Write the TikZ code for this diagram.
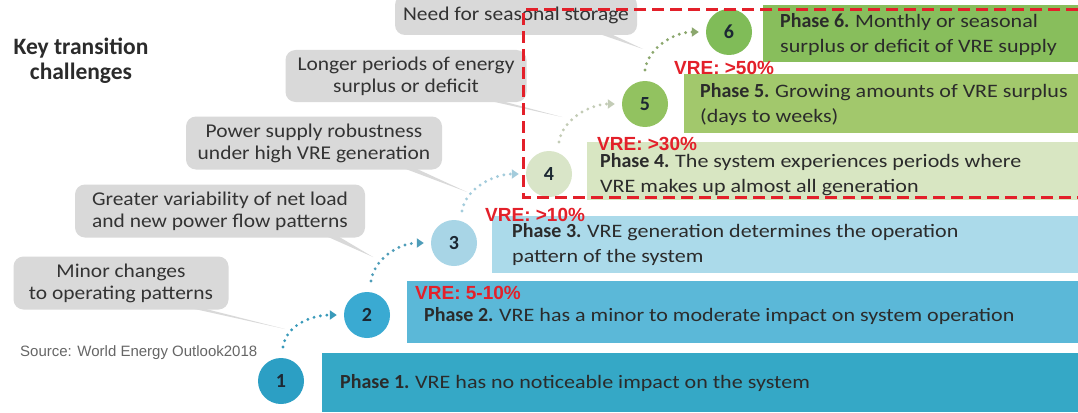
\documentclass[tikz,border=0pt]{standalone}
\usepackage{fontspec}
\setmainfont{Carlito}
\newfontfamily\arialf{Liberation Sans}
\usetikzlibrary{arrows.meta,calc}
\definecolor{pa}{HTML}{35A8C6}
\definecolor{pb}{HTML}{5BB8D8}
\definecolor{pc}{HTML}{ABDAEA}
\definecolor{pd}{HTML}{D8E6C2}
\definecolor{pe}{HTML}{A2C86C}
\definecolor{pf}{HTML}{88BE5C}
\definecolor{ca}{HTML}{2C9FC4}
\definecolor{cb}{HTML}{3AAAD2}
\definecolor{cc}{HTML}{A8D5E6}
\definecolor{cd}{HTML}{D9E5C8}
\definecolor{ce}{HTML}{92C260}
\definecolor{cf}{HTML}{80BC58}
\definecolor{callg}{HTML}{D9D9D9}
\definecolor{calltxt}{HTML}{333333}
\definecolor{txtc}{HTML}{2B2B2B}
\definecolor{numc}{HTML}{1C2833}
\definecolor{redc}{HTML}{E3202A}
\definecolor{srcg}{HTML}{666666}
\newcommand{\bw}[1]{\scalebox{1.16}[1]{#1}}
\newcommand{\cw}[1]{\scalebox{1.1}[1]{#1}}
\newcommand{\ph}[1]{{\bfseries\fontsize{20}{24}\selectfont #1}}
\begin{document}
\begin{tikzpicture}[x=1pt,y=-1pt,
  bar/.style={anchor=north west, inner sep=0pt, outer sep=0pt, draw=none},
  btxt/.style={anchor=west, align=left, inner sep=0pt, text=txtc,
    font=\fontsize{19}{25}\selectfont},
  circ/.style={circle, minimum size=46pt, inner sep=0pt, text=numc,
    font=\bfseries\fontsize{20}{24}\selectfont},
  callout/.style={rounded corners=10pt, fill=callg, align=center, inner sep=0pt,
    text=calltxt, font=\fontsize{19.5}{22}\selectfont},
  ptr/.style={fill=callg},
  dots/.style={line width=3.2pt, line cap=round, dash pattern=on 0pt off 6.5pt,
    -{Triangle[width=9pt,length=7pt]}},
  vre/.style={anchor=west, inner sep=1pt, text=redc,
    font=\arialf\bfseries\fontsize{19}{22}\selectfont},
  reddash/.style={draw=redc, line width=3pt, dash pattern=on 12pt off 6pt}
]
\useasboundingbox (0,0) rectangle (1078,412);
\fill[white] (0,0) rectangle (1078,412);

% bars
\node[bar, fill=pa, minimum width=756pt, minimum height=59pt] (b1) at (322,353) {};
\node[bar, fill=pb, minimum width=671pt, minimum height=62pt] (b2) at (407,281) {};
\node[bar, fill=pc, minimum width=586pt, minimum height=57pt] (b3) at (492,216) {};
\node[bar, fill=pd, minimum width=491pt, minimum height=58pt] (b4) at (587,142) {};
\node[bar, fill=pe, minimum width=394pt, minimum height=59pt] (b5) at (684,74) {};
\node[bar, fill=pf, minimum width=315pt, minimum height=57pt] (b6) at (763,5) {};

% bar texts
\node[btxt] (t1) at (340,383) {\ph{Phase 1.} \bw{VRE has no noticeable impact on the system}};
\node[btxt] (t2) at (424,316) {\ph{Phase 2.} \bw{VRE has a minor to moderate impact on system operation}};
\node[btxt] (t3) at (512,245) {\ph{Phase 3.} \bw{VRE generation determines the operation}\\\bw{pattern of the system}};
\node[btxt] (t4) at (600,175) {\ph{Phase 4.} \bw{The system experiences periods where}\\\bw{VRE makes up almost all generation}};
\node[btxt] (t5) at (700,105) {\ph{Phase 5.} \bw{Growing amounts of VRE surplus}\\\bw{(days to weeks)}};
\node[btxt] (t6) at (780,35) {\ph{Phase 6.} \bw{Monthly or seasonal}\\\bw{surplus or deficit of VRE supply}};

% circles
\node[circ, fill=ca] (c1) at (281,381) {1};
\node[circ, fill=cb] (c2) at (367,315) {2};
\node[circ, fill=cc] (c3) at (454,243) {3};
\node[circ, fill=cd] (c4) at (549,174) {4};
\node[circ, fill=ce] (c5) at (645,104) {5};
\node[circ, fill=cf] (c6) at (729,32) {6};

% dotted arrows
\coordinate (s1) at (283,347);
\coordinate (s2) at (371,281);
\coordinate (s3) at (462,211);
\coordinate (s4) at (559,142);
\coordinate (s5) at (645,70);
\draw[dots, draw=ca!85!gray] (s1) .. controls +(3,-22) and +(-25,0) .. ([xshift=-7pt]c2.west);
\draw[dots, draw=cb!70!gray] (s2) .. controls +(3,-22) and +(-25,0) .. ([xshift=-7pt]c3.west);
\draw[dots, draw=cc!90!gray] (s3) .. controls +(3,-22) and +(-25,0) .. ([xshift=-7pt]c4.west);
\draw[dots, draw=cd!75!gray] (s4) .. controls +(3,-22) and +(-25,0) .. ([xshift=-7pt]c5.west);
\draw[dots, draw=ce!60!gray] (s5) .. controls +(3,-22) and +(-25,0) .. ([xshift=-7pt]c6.west);

% callouts
\node[callout, minimum width=215pt, minimum height=53pt] (k1) at (121,283) {\cw{Minor changes}\\\cw{to operating patterns}};
\node[callout, minimum width=290pt, minimum height=53pt] (k2) at (220,211) {\cw{Greater variability of net load}\\\cw{and new power flow patterns}};
\node[callout, minimum width=256pt, minimum height=53pt] (k3) at (314,143) {\cw{Power supply robustness}\\\cw{under high VRE generation}};
\node[callout, minimum width=241pt, minimum height=52pt] (k4) at (406,76) {\cw{Longer periods of energy}\\\cw{surplus or deficit}};
\node[callout, minimum width=242pt, minimum height=40pt] (k5) at (516,15) {\cw{Need for seasonal storage}};

% pointers
\coordinate (p1) at (285,329);
\coordinate (p2) at (373,257);
\coordinate (p3) at (467,192);
\coordinate (p4) at (562,117);
\coordinate (p5) at (643,49);
\fill[ptr] ($(k1.south east)+(-40,-2)$) -- ($(k1.south east)+(-28,-2)$) -- (p1) -- cycle;
\fill[ptr] ($(k2.south east)+(-40,-2)$) -- ($(k2.south east)+(-28,-2)$) -- (p2) -- cycle;
\fill[ptr] ($(k3.south east)+(-40,-2)$) -- ($(k3.south east)+(-28,-2)$) -- (p3) -- cycle;
\fill[ptr] ($(k4.south east)+(-40,-2)$) -- ($(k4.south east)+(-28,-2)$) -- (p4) -- cycle;
\fill[ptr] ($(k5.south east)+(-40,-2)$) -- ($(k5.south east)+(-28,-2)$) -- (p5) -- cycle;

% title and source
\node[align=center, inner sep=0pt, text=txtc, font=\bfseries\fontsize{23.5}{25}\selectfont] (title) at (81,61) {Key transition\\challenges};
\node[anchor=west, inner sep=0pt, text=srcg, font=\arialf\fontsize{15}{18}\selectfont] (src) at (20,353) {Source: World Energy Outlook2018};

% VRE labels
\node[vre] (v2) at (414,293) {VRE: 5-10\%};
\node[vre] (v3) at (484,215) {VRE: >10\%};
\node[vre] (v4) at (596,144) {VRE: >30\%};
\node[vre] (v5) at (673,68) {VRE: >50\%};

% red dashed frame
\coordinate (r1) at (1078,10);
\coordinate (r2) at (523,10);
\coordinate (r3) at (523,197);
\coordinate (r4) at (1078,197);
\draw[reddash] (r1) -- (r2) -- (r3) -- (r4);
\end{tikzpicture}
\end{document}
